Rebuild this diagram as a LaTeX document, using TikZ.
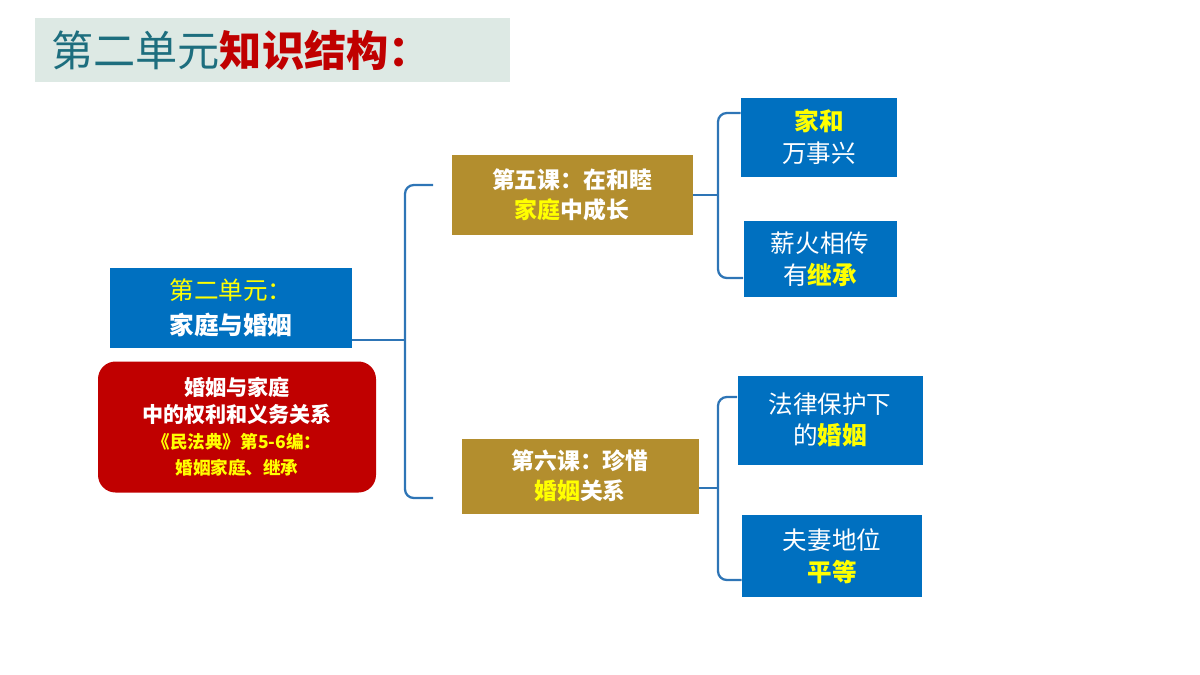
\documentclass[tikz,border=0pt]{standalone}
\usepackage{fontspec}
\setmainfont{Noto Sans CJK SC}
\usetikzlibrary{positioning}
\definecolor{boxblue}{HTML}{0070C0}
\definecolor{boxgold}{HTML}{B38E2E}
\definecolor{boxred}{HTML}{C00000}
\definecolor{linkblue}{HTML}{2E75B6}
\definecolor{titlebg}{HTML}{DDE9E4}
\definecolor{titleteal}{HTML}{1D6E7E}
\definecolor{hl}{HTML}{FFFF00}
\begin{document}
\begin{tikzpicture} [x=0.02cm, y=-0.02cm, box/.style={rectangle, fill=boxblue, text=white, align=center, inner sep=0pt, font=\fontsize{14}{18}\selectfont, drop shadow/.style={}}, lesson/.style={box, fill=boxgold, font=\bfseries\fontsize{13}{17}\selectfont}, brace/.style={draw=linkblue, line width=1.3pt, rounded corners=5pt}]
\useasboundingbox (0,0) rectangle (1200,674);
{
  %% Title
  \node [fill=titlebg, minimum width=475*0.02cm, minimum height=64*0.02cm, anchor=north west, inner sep=0pt] (title) at (35,18) {};
  \node [anchor=west, font=\fontsize{24}{28}\selectfont] at (45,50) {\textcolor{titleteal}{第二单元}\textcolor{boxred}{\bfseries 知识结构：}};
  %% Unit
  \node [box, minimum width=242*0.02cm, minimum height=80*0.02cm, font=\bfseries\fontsize{14}{20}\selectfont] (unit) at (231,308) {\textcolor{hl}{\mdseries 第二单元：}\\家庭与婚姻};
  \node [box, fill=boxred, rounded corners=10pt, minimum width=278*0.02cm, minimum height=131*0.02cm, font=\bfseries\fontsize{12}{15}\selectfont] (law) at (237,427) {婚姻与家庭\\中的权利和义务关系\\{\color{hl}\fontsize{10}{13}\selectfont《民法典》第5-6编：}\\{\color{hl}\fontsize{10}{13}\selectfont 婚姻家庭、继承}};
  %% Lessons
  \node [lesson, minimum width=241*0.02cm, minimum height=80*0.02cm] (five) at (572,195) {第五课：在和睦\\\textcolor{hl}{家庭}中成长};
  \node [lesson, minimum width=237*0.02cm, minimum height=75*0.02cm] (six) at (580,476) {第六课：珍惜\\\textcolor{hl}{婚姻}关系};
  %% Topics
  \node [box, minimum width=156*0.02cm, minimum height=79*0.02cm] (home) at (819,137) {\textcolor{hl}{\bfseries 家和}\\万事兴};
  \node [box, minimum width=153*0.02cm, minimum height=76*0.02cm] (inherit) at (820,259) {薪火相传\\有\textcolor{hl}{\bfseries 继承}};
  \node [box, minimum width=185*0.02cm, minimum height=89*0.02cm] (marry) at (830,420) {法律保护下\\的\textcolor{hl}{\bfseries 婚姻}};
  \node [box, minimum width=180*0.02cm, minimum height=82*0.02cm] (equal) at (832,556) {夫妻地位\\\textcolor{hl}{\bfseries 平等}};
  % Draw brackets
  \draw [brace] (unit.east |- 0,340) -- (405,340);
  \draw [brace] (433,185) -- (405,185) -- (405,498) -- (433,498);
  \draw [brace] (five.east) -- (718,195);
  \draw [brace] (home.west |- 0,113) -- (718,113) -- (718,278) -- (inherit.west |- 0,278);
  \draw [brace] (six.east |- 0,488) -- (718,488);
  \draw [brace] (marry.west |- 0,397) -- (718,397) -- (718,580) -- (equal.west |- 0,580);
}
\end{tikzpicture}
\end{document}
